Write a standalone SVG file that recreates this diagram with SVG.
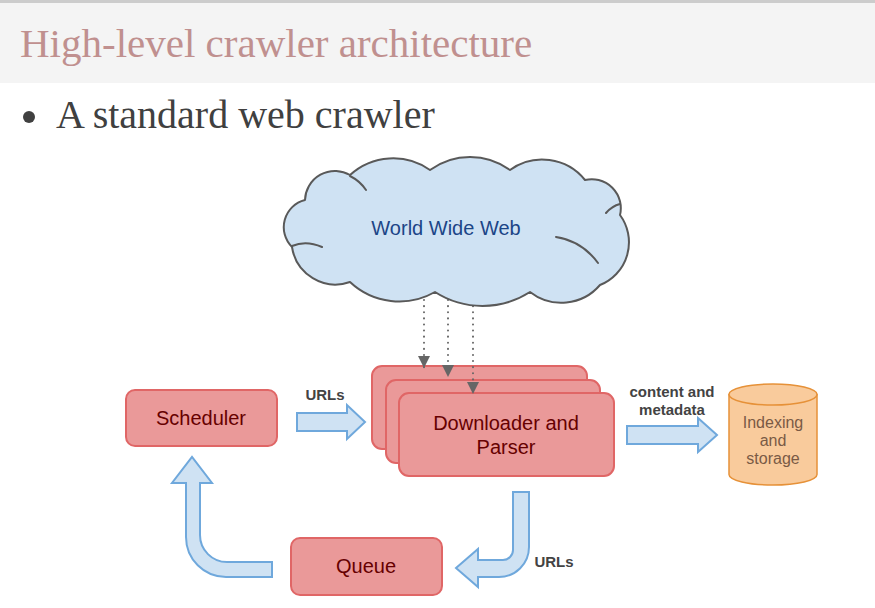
<svg xmlns="http://www.w3.org/2000/svg" width="875" height="608" viewBox="0 0 875 608">
<style>
.box{fill:#ea9999;stroke:#e06666;stroke-width:2}
.boxt{font-family:"Liberation Sans",Arial,sans-serif;font-size:20px;fill:#660000;text-anchor:middle}
.blue{fill:#cfe2f3;stroke:#6fa8dc;stroke-width:2;stroke-linejoin:miter}
.lbl{font-family:"Liberation Sans",Arial,sans-serif;font-size:15px;font-weight:bold;fill:#434343;text-anchor:middle}
.dot{stroke:#666666;stroke-width:2;stroke-dasharray:0.1 6;stroke-linecap:round;fill:none}
</style>
<defs>
<marker id="ah" markerUnits="userSpaceOnUse" markerWidth="12" markerHeight="12" refX="10" refY="5" orient="auto" viewBox="0 0 10 10">
<path d="M0,0 L10,5 L0,10 Z" fill="#666666"/>
</marker>
</defs>
<rect x="0" y="0" width="875" height="608" fill="#ffffff"/>
<rect x="0" y="0" width="875" height="3" fill="#cccccc"/>
<rect x="0" y="3" width="875" height="80" fill="#f4f4f4"/>
<text x="20" y="57" font-family="Liberation Serif,'Times New Roman',serif" font-size="41" fill="#c0908f">High-level crawler architecture</text>
<circle cx="29" cy="117" r="6" fill="#404040"/>
<text x="56" y="128" font-family="Liberation Serif,'Times New Roman',serif" font-size="40" fill="#404040">A standard web crawler</text>

<g id="scheduler">
<rect class="box" x="126" y="390" width="151" height="56" rx="9"/>
<text class="boxt" x="201" y="425">Scheduler</text>
</g>
<g id="downloader">
<rect class="box" x="372" y="366" width="215" height="83" rx="10"/>
<rect class="box" x="386" y="380" width="214" height="83" rx="10"/>
<rect class="box" x="399" y="393" width="215" height="83" rx="10"/>
<text class="boxt" x="506" y="430">Downloader and</text>
<text class="boxt" x="506" y="454">Parser</text>
</g>
<g id="queue">
<rect class="box" x="291" y="538" width="151" height="57" rx="9"/>
<text class="boxt" x="366" y="573">Queue</text>
</g>
<g id="storage">
<path d="M729,394.5 L729,474.5 A44,10.5 0 0 0 817,474.5 L817,394.5 Z" fill="#f9cb9c" stroke="#e69138" stroke-width="1.5"/>
<ellipse cx="773" cy="394.5" rx="44" ry="10.5" fill="#f9cb9c" stroke="#e69138" stroke-width="1.5"/>
<g font-family="Liberation Sans,Arial,sans-serif" font-size="16" fill="#7a5a45" text-anchor="middle">
<text x="773" y="428">Indexing</text>
<text x="773" y="446">and</text>
<text x="773" y="464">storage</text>
</g>
</g>

<g id="connectors">
<line class="dot" x1="424" y1="300" x2="424" y2="368" marker-end="url(#ah)"/>
<line class="dot" x1="448" y1="300" x2="448" y2="377" marker-end="url(#ah)"/>
<line class="dot" x1="473" y1="300" x2="473" y2="394" marker-end="url(#ah)"/>
<path class="blue" d="M297,413 L347,413 L347,405 L365,422 L347,439 L347,431 L297,431 Z"/>
<text class="lbl" x="325" y="400">URLs</text>
<path class="blue" d="M627,426 L698,426 L698,418 L717,435 L698,452 L698,444 L627,444 Z"/>
<text class="lbl" x="672" y="397">content and</text>
<text class="lbl" x="672" y="415">metadata</text>
<path class="blue" d="M513,492 L529,492 L529,547 A30,30 0 0 1 499,577 L478,577 L478,587 L456,568 L478,549 L478,560 L503,560 A10,10 0 0 0 513,550 Z"/>
<text class="lbl" x="554" y="567">URLs</text>
<path class="blue" d="M272,562 L272,577 L226,577 A40,40 0 0 1 186,537 L186,483 L172,483 L192,457 L212,483 L200,483 L200,535 A27,27 0 0 0 227,562 Z"/>
</g>

<g id="web">
<path d="M292,247 A28,28 0 0 1 305,200 A30,30 0 0 1 350,175 A64,64 0 0 1 430,170 A68,68 0 0 1 510,170 A55,55 0 0 1 585,180 A29,29 0 0 1 620,215 A46,46 0 0 1 600,285 A51,51 0 0 1 530,292 A88,88 0 0 1 435,292 A72,72 0 0 1 350,282 A44,44 0 0 1 292,247 Z" fill="#cfe2f3" stroke="#595959" stroke-width="2" stroke-linejoin="round"/>
<path d="M292,246 Q306,240 322,247 M556,237 Q582,241 598,263 M606,213 Q612,206 620,204 M350,176 Q360,181 366,190" fill="none" stroke="#595959" stroke-width="2" stroke-linecap="round"/>
<text x="446" y="235" font-family="Liberation Sans,Arial,sans-serif" font-size="20" fill="#1c4587" text-anchor="middle">World Wide Web</text>
</g>
</svg>
